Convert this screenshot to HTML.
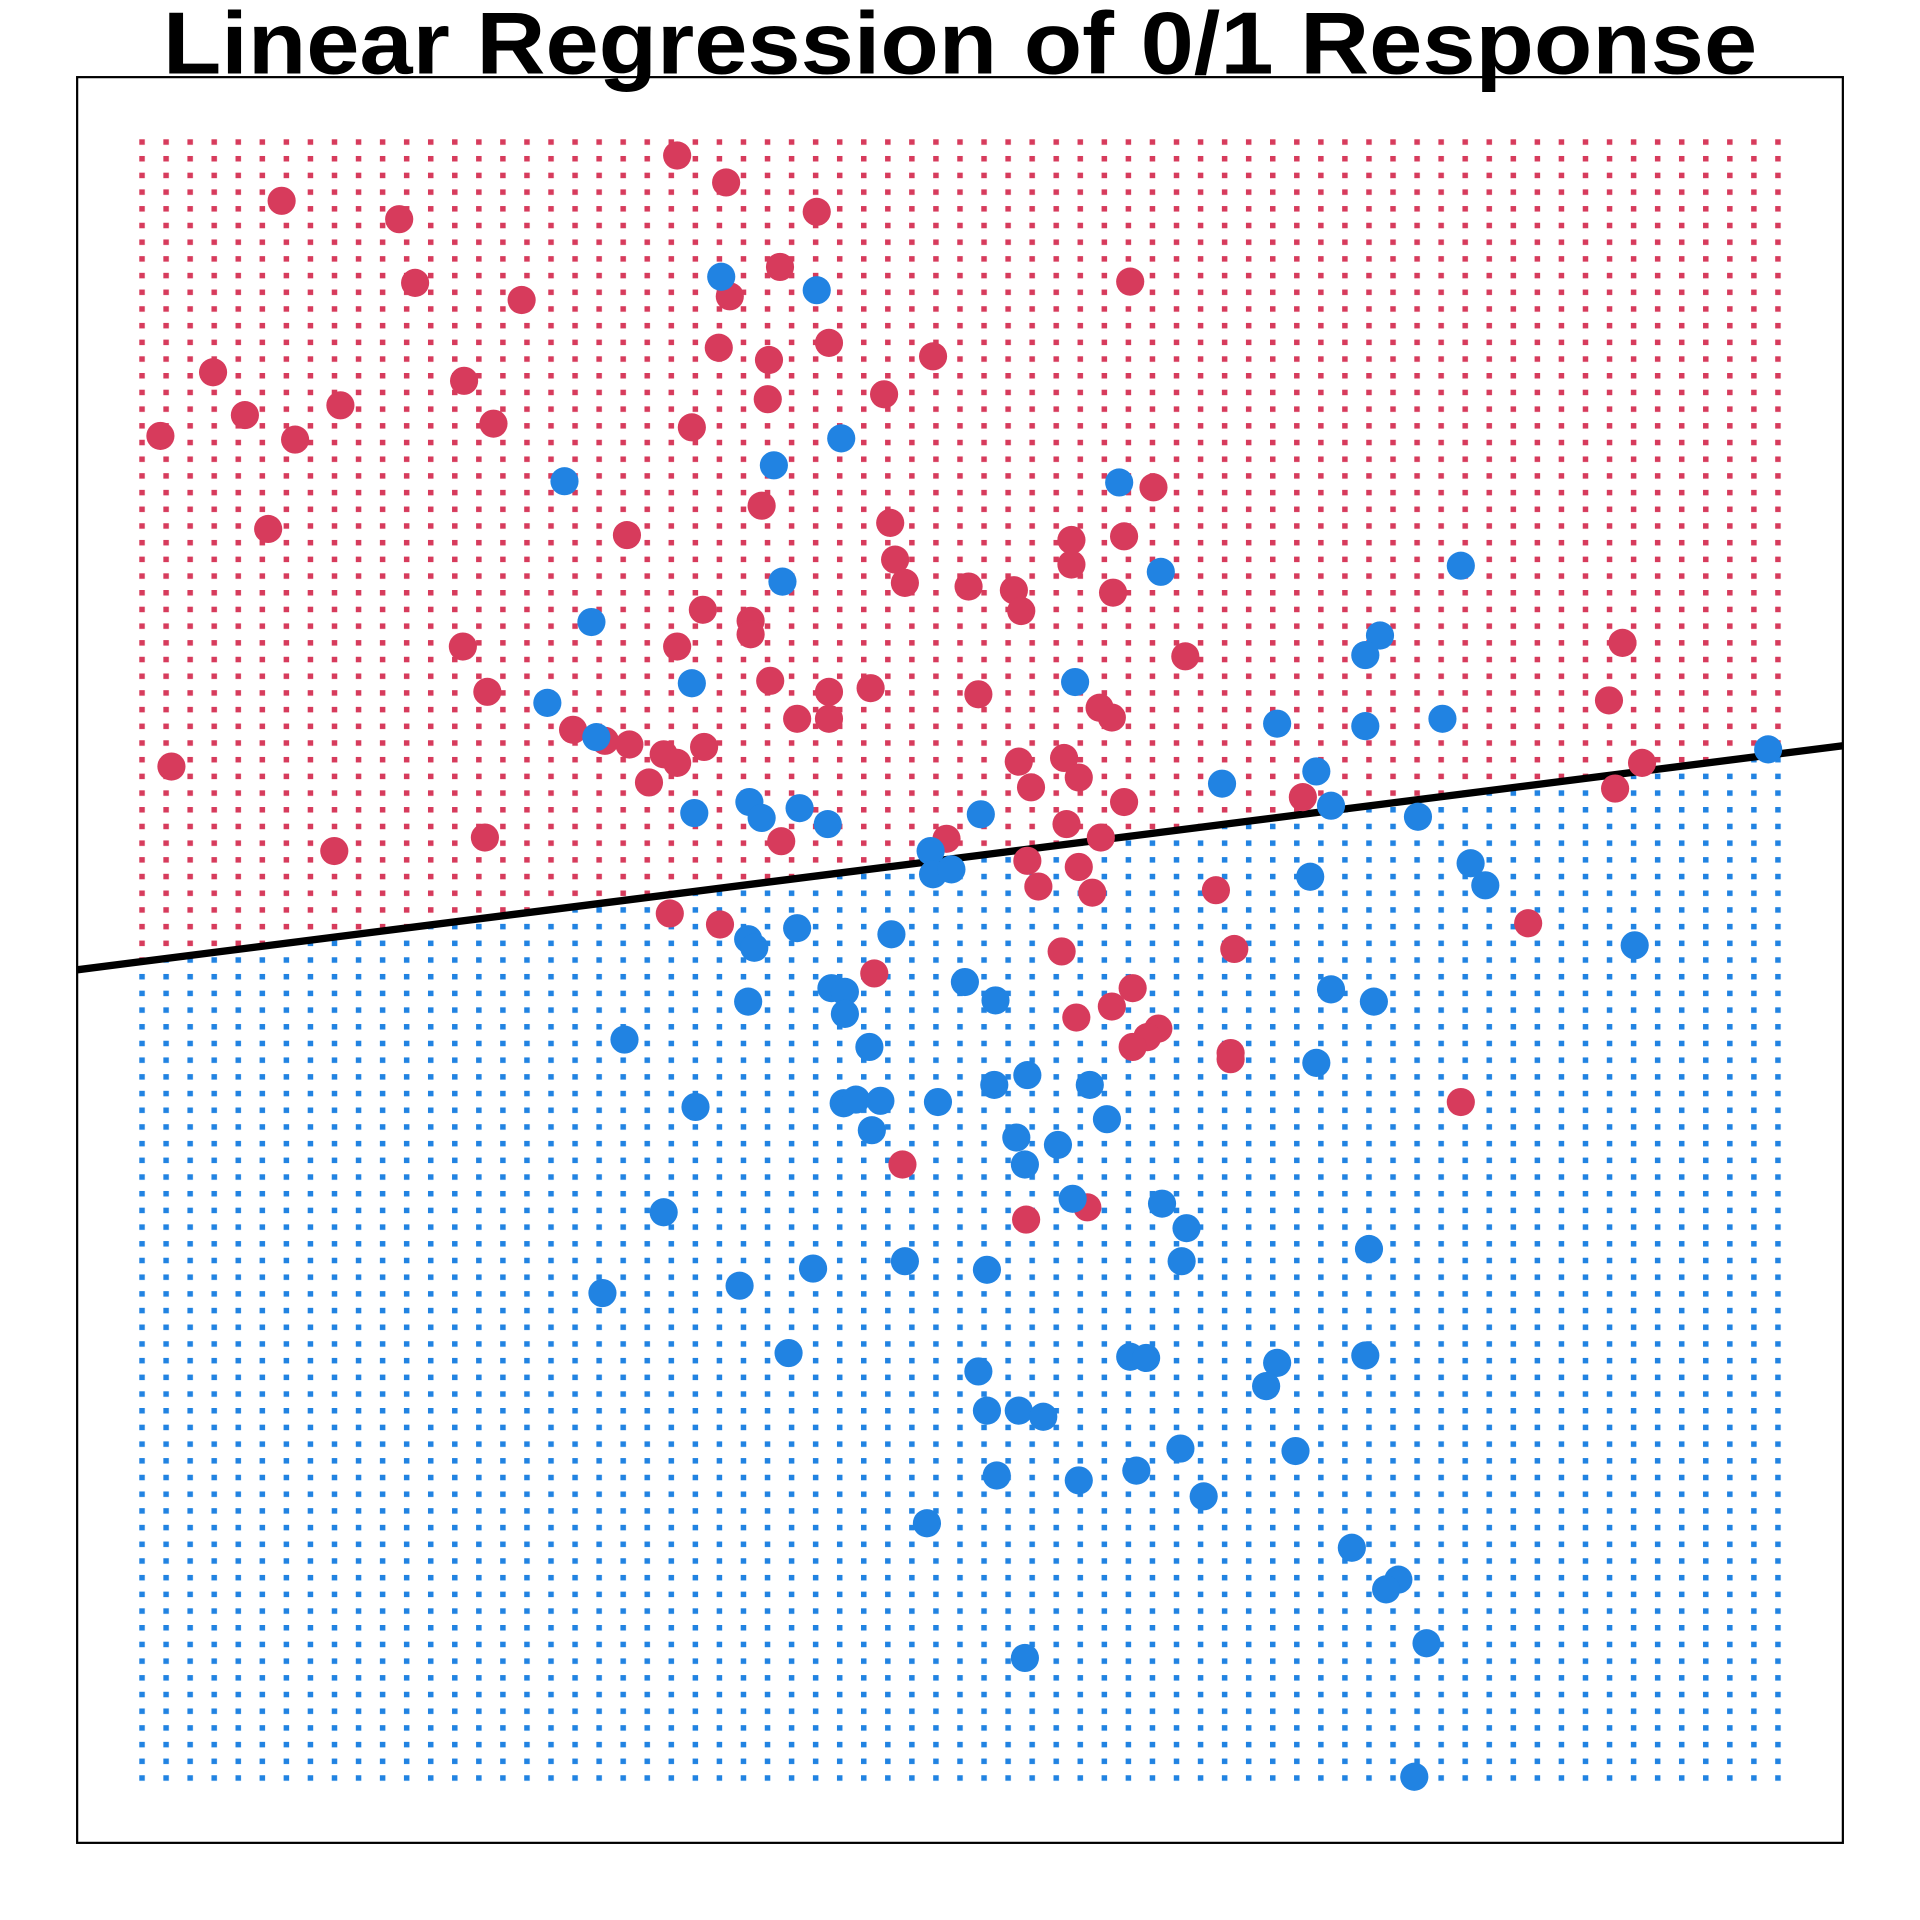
<!DOCTYPE html>
<html><head><meta charset="utf-8"><style>html,body{margin:0;padding:0;background:#fff;}svg{display:block;}</style></head>
<body>
<svg width="1920" height="1920" viewBox="0 0 1568 1568" xmlns="http://www.w3.org/2000/svg">
<defs>
<pattern id="pr" patternUnits="userSpaceOnUse" x="113.75" y="113.75" width="19.647" height="13.633"><rect x="0" y="0" width="4.5" height="4.5" fill="#D73B5C"/></pattern>
<pattern id="pb" patternUnits="userSpaceOnUse" x="113.75" y="113.75" width="19.647" height="13.633"><rect x="0" y="0" width="4.5" height="4.5" fill="#2183E2"/></pattern>
<clipPath id="cr"><polygon points="63,63 1505,63 1505,609 63,792"/></clipPath>
<clipPath id="cb"><polygon points="63,792 1505,609 1505,1505 63,1505"/></clipPath>
</defs>
<rect width="1568" height="1568" fill="#fff"/>
<g clip-path="url(#cr)"><rect x="110" y="110" width="1348" height="1348" fill="url(#pr)"/></g>
<g clip-path="url(#cb)"><rect x="110" y="110" width="1348" height="1348" fill="url(#pb)"/></g>
<rect x="63" y="63" width="1442" height="1442" fill="none" stroke="#000" stroke-width="1.8"/>
<line x1="63" y1="792" x2="1505" y2="609" stroke="#000" stroke-width="6"/>
<g fill="#D73B5C" id="red"></g>
<g fill="#2183E2" id="blue"></g>
<text x="784" y="60" text-anchor="middle" font-family="Liberation Sans, sans-serif" font-weight="bold" font-size="72" textLength="1302" lengthAdjust="spacingAndGlyphs">Linear Regression of 0/1 Response</text>
</svg>
<script>
var R=[[553,127],[593,149],[230,164],[326,179],[667,173],[339,231],[637,218],[426,245],[596,242],[923,230],[587,284],[628,294],[677,280],[762,291],[174,304],[379,311],[200,339],[278,331],[403,346],[722,322],[627,326],[131,356],[241,359],[565,349],[942,398],[219,432],[512,437],[622,413],[727,427],[875,441],[918,438],[731,457],[875,461],[739,476],[791,479],[828,482],[834,499],[909,484],[574,498],[613,507],[613,518],[378,528],[553,528],[968,536],[1325,525],[398,565],[629,556],[677,565],[711,562],[799,567],[1314,572],[898,578],[908,586],[651,587],[677,587],[468,596],[494,605],[514,608],[575,610],[542,616],[553,623],[140,626],[832,622],[869,619],[1341,623],[530,639],[842,643],[881,635],[1319,644],[918,655],[1064,651],[871,673],[396,684],[273,695],[638,687],[899,684],[773,685],[839,703],[881,708],[848,724],[892,729],[993,727],[547,746],[588,755],[1248,754],[1008,775],[867,777],[714,795],[925,807],[908,822],[879,831],[946,840],[937,847],[925,855],[1005,860],[1005,865],[1193,900],[737,951],[888,986],[838,996]];
var B=[[589,226],[667,237],[687,358],[632,380],[461,393],[914,394],[639,475],[948,467],[1193,462],[483,508],[1127,519],[1115,535],[565,558],[878,557],[447,574],[1043,591],[1115,593],[1178,587],[487,602],[1444,612],[998,640],[1075,630],[1087,658],[1158,667],[567,664],[612,655],[622,668],[653,660],[676,673],[801,665],[760,695],[762,714],[777,710],[1201,705],[1213,723],[1070,716],[651,758],[728,763],[611,767],[616,774],[1335,772],[788,802],[813,817],[679,807],[690,810],[690,828],[1087,808],[1122,818],[611,818],[510,849],[710,855],[1075,868],[839,878],[812,886],[890,886],[568,904],[689,901],[699,898],[719,899],[766,900],[904,914],[712,923],[830,929],[864,935],[837,951],[876,979],[949,983],[969,1003],[542,990],[1118,1020],[739,1030],[965,1030],[664,1036],[806,1037],[604,1050],[492,1056],[644,1105],[923,1108],[936,1109],[1115,1107],[1043,1113],[1034,1132],[799,1120],[806,1152],[832,1152],[852,1157],[964,1183],[1058,1185],[928,1201],[814,1205],[881,1209],[983,1222],[757,1244],[1104,1264],[1142,1290],[1132,1298],[1165,1342],[837,1354],[1155,1451]];
var ns="http://www.w3.org/2000/svg";
function add(id,a){var g=document.getElementById(id);a.forEach(function(p){var c=document.createElementNS(ns,"circle");c.setAttribute("cx",p[0]);c.setAttribute("cy",p[1]);c.setAttribute("r",11.5);g.appendChild(c);});}
add("red",R);add("blue",B);
</script>
</body></html>
